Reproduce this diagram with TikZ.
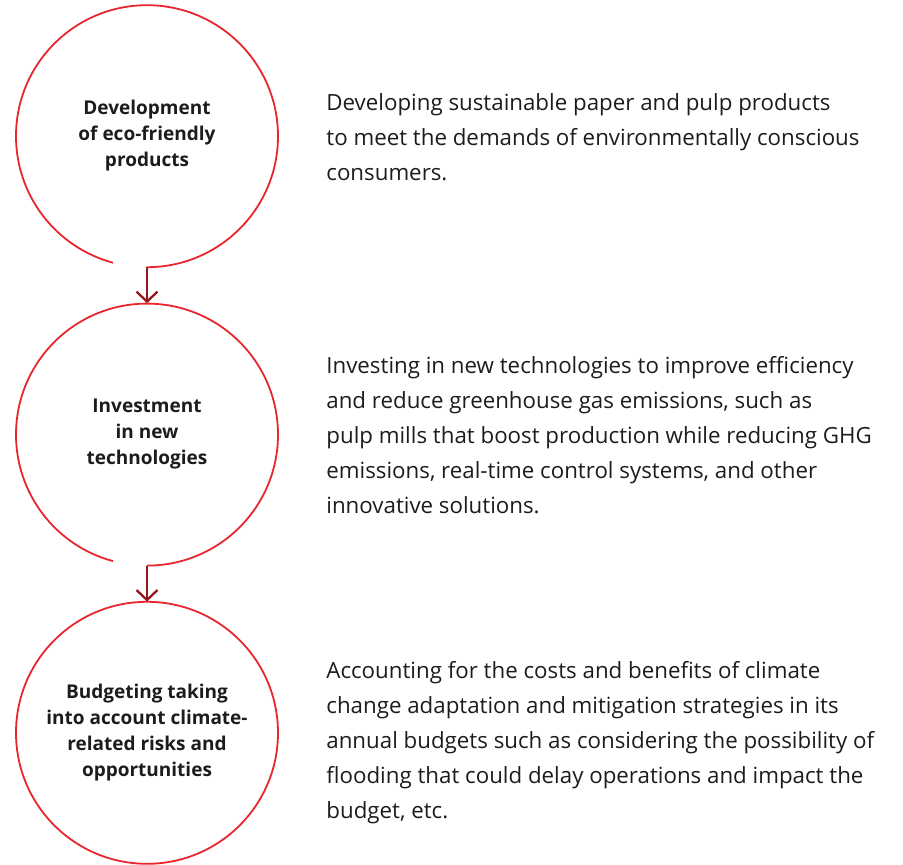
\documentclass[tikz,border=0pt]{standalone}
\usepackage{fontspec}
\setmainfont{Open Sans}
\usetikzlibrary{positioning,arrows.meta}
\definecolor{ringred}{RGB}{232,38,46}
\definecolor{arrowred}{RGB}{150,22,30}
\definecolor{inktext}{RGB}{28,28,28}
\begin{document}
\begin{tikzpicture}[x=1pt,y=1pt,
    ring/.style={circle,minimum size=262pt,inner sep=0pt,align=center,text=inktext,
      font=\bfseries\fontsize{19}{26}\selectfont},
    desc/.style={anchor=west,align=left,inner sep=0pt,text=inktext,
      font=\fontsize{22.3}{35}\selectfont},
    rim/.style={draw=ringred,line width=1.8pt},
    link/.style={draw=arrowred,line width=2.3pt,-{Straight Barb[length=10pt,width=21pt]}}]
    \useasboundingbox (0,0) rectangle (903,-865);
    % circles
    \node[ring] (dev) at (147,-136) {Development\\of eco-friendly\\products};
    \node[ring,below=36pt of dev] (inv) {Investment\\in new\\technologies};
    \node[ring,below=36pt of inv] (bud) {Budgeting taking\\into account climate-\\related risks and\\opportunities};
    \draw[rim] (dev.south) arc[start angle=-90,end angle=255,radius=131pt];
    \draw[rim] (inv.south) arc[start angle=-90,end angle=255,radius=131pt];
    \draw[rim] (bud.center) circle[radius=131pt];
    % arrows
    \draw[link] (dev.south) -- (inv.north);
    \draw[link] (inv.south) -- (bud.north);
    % texts
    \node[desc,right=48pt of dev,yshift=-1pt] (devtxt) {Developing sustainable paper and pulp products\\to meet the demands of environmentally conscious\\consumers.};
    \node[desc,right=48pt of inv,yshift=-1pt] (invtxt) {Investing in new technologies to improve efficiency\\and reduce greenhouse gas emissions, such as\\pulp mills that boost production while reducing GHG\\emissions, real-time control systems, and other\\innovative solutions.};
    \node[desc,right=48pt of bud,yshift=-10pt] (budtxt) {Accounting for the costs and benefits of climate\\change adaptation and mitigation strategies in its\\annual budgets such as considering the possibility of\\flooding that could delay operations and impact the\\budget, etc.};
\end{tikzpicture}
\end{document}
